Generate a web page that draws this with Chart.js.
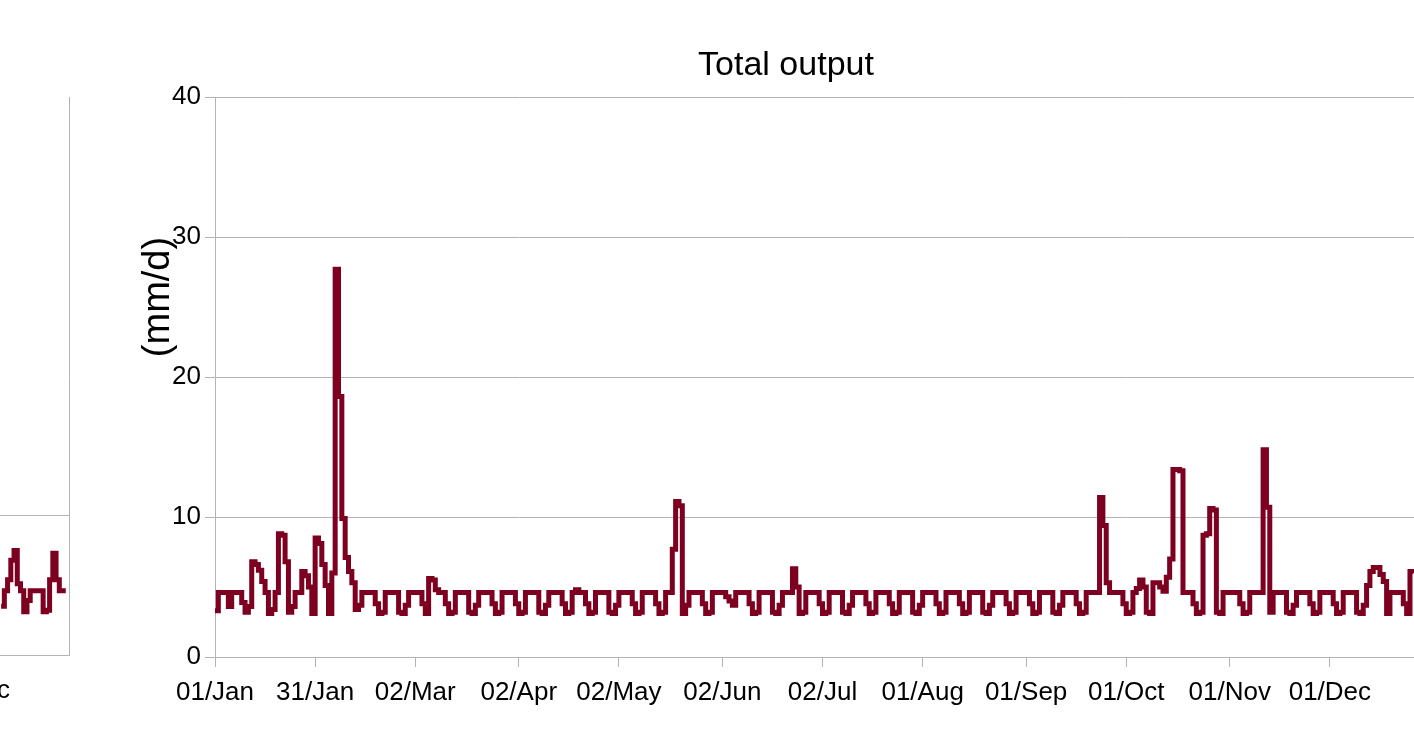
<!DOCTYPE html>
<html>
<head>
<meta charset="utf-8">
<script src="https://cdn.jsdelivr.net/npm/chart.js@4.4.0/dist/chart.umd.min.js"></script>
<style>
  html, body { margin: 0; padding: 0; background: #fff; overflow: hidden; width: 1414px; height: 735px; }
  .panel { position: absolute; top: 0; height: 735px; }
  #prevWrap { left: -1160px; width: 1240px; }
  #mainWrap { left: 126px; width: 1320px; }
</style>
</head>
<body>
<div id="prevWrap" class="panel"><canvas id="prevChart"></canvas></div>
<div id="mainWrap" class="panel"><canvas id="mainChart"></canvas></div>
<script>
// Day-of-year positions of the date ticks and their labels
const tickDays   = [0, 30, 60, 91, 121, 152, 182, 212, 243, 273, 304, 334];
const tickLabels = ['01/Jan', '31/Jan', '02/Mar', '02/Apr', '02/May', '02/Jun',
                    '02/Jul', '01/Aug', '01/Sep', '01/Oct', '01/Nov', '01/Dec'];

const chartTitle = 'Total output';
const unitLabel  = '(mm/d)';
const yTicks     = [0, 10, 20, 30, 40];

// Daily total output (mm/d), one row per week starting 01/Jan
const dailyOutput = [
  3.3, 4.6, 4.6, 4.6, 3.6, 4.6, 4.6,
  4.6, 3.9, 3.2, 3.6, 6.8, 6.6, 6.2,
  5.4, 4.6, 3.1, 3.4, 4.6, 8.8, 8.7,
  6.8, 3.2, 3.6, 4.6, 4.6, 6.1, 5.8,
  5.0, 3.1, 8.5, 8.1, 6.6, 5.1, 3.1,
  6.0, 27.7, 18.6, 9.9, 7.1, 6.1, 5.3,
  3.4, 3.7, 4.6, 4.6, 4.6, 4.6, 3.8,
  3.1, 3.2, 4.6, 4.6, 4.6, 4.6, 3.2,
  3.1, 3.7, 4.6, 4.6, 4.6, 4.6, 3.8,
  3.1, 5.6, 5.5, 4.8, 4.6, 4.6, 3.8,
  3.1, 3.2, 4.6, 4.6, 4.6, 4.6, 3.2,
  3.1, 3.7, 4.6, 4.6, 4.6, 4.6, 3.8,
  3.1, 3.2, 4.6, 4.6, 4.6, 4.6, 3.8,
  3.1, 3.2, 4.6, 4.6, 4.6, 4.6, 3.2,
  3.1, 3.7, 4.6, 4.6, 4.6, 4.6, 3.8,
  3.1, 3.2, 4.6, 4.8, 4.6, 4.6, 3.8,
  3.1, 3.2, 4.6, 4.6, 4.6, 4.6, 3.2,
  3.1, 3.7, 4.6, 4.6, 4.6, 4.6, 3.8,
  3.1, 3.2, 4.6, 4.6, 4.6, 4.6, 3.8,
  3.1, 3.2, 4.6, 4.6, 7.7, 11.1, 10.8,
  3.1, 3.7, 4.6, 4.6, 4.6, 4.6, 3.8,
  3.1, 3.2, 4.6, 4.6, 4.6, 4.6, 4.3,
  4.0, 3.7, 4.6, 4.6, 4.6, 4.6, 3.8,
  3.1, 3.2, 4.6, 4.6, 4.6, 4.6, 3.2,
  3.1, 3.7, 4.6, 4.6, 4.6, 6.3, 5.0,
  3.1, 3.2, 4.6, 4.6, 4.6, 4.6, 3.8,
  3.1, 3.2, 4.6, 4.6, 4.6, 4.6, 3.2,
  3.1, 3.7, 4.6, 4.6, 4.6, 4.6, 3.8,
  3.1, 3.2, 4.6, 4.6, 4.6, 4.6, 3.8,
  3.1, 3.2, 4.6, 4.6, 4.6, 4.6, 3.2,
  3.1, 3.7, 4.6, 4.6, 4.6, 4.6, 3.8,
  3.1, 3.2, 4.6, 4.6, 4.6, 4.6, 3.8,
  3.1, 3.2, 4.6, 4.6, 4.6, 4.6, 3.2,
  3.1, 3.7, 4.6, 4.6, 4.6, 4.6, 3.8,
  3.1, 3.2, 4.6, 4.6, 4.6, 4.6, 3.8,
  3.1, 3.2, 4.6, 4.6, 4.6, 4.6, 3.2,
  3.1, 3.7, 4.6, 4.6, 4.6, 4.6, 3.8,
  3.1, 3.2, 4.6, 4.6, 4.6, 4.6, 11.4,
  9.4, 5.3, 4.6, 4.6, 4.6, 4.6, 3.8,
  3.1, 3.2, 4.6, 4.9, 5.5, 5.0, 3.2,
  3.1, 5.3, 5.3, 5.0, 4.7, 5.7, 7.0,
  13.4, 13.4, 13.3, 4.6, 4.6, 4.6, 3.8,
  3.1, 3.2, 8.7, 8.8, 10.6, 10.5, 3.2,
  3.1, 4.6, 4.6, 4.6, 4.6, 4.6, 3.8,
  3.1, 3.2, 4.6, 4.6, 4.6, 4.6, 14.8,
  10.7, 3.2, 4.6, 4.6, 4.6, 4.6, 3.2,
  3.1, 3.7, 4.6, 4.6, 4.6, 4.6, 3.8,
  3.1, 3.2, 4.6, 4.6, 4.6, 4.6, 3.8,
  3.1, 3.2, 4.6, 4.6, 4.6, 4.6, 3.2,
  3.1, 3.7, 5.1, 6.1, 6.4, 6.4, 5.9,
  5.4, 3.1, 4.6, 4.6, 4.6, 4.6, 3.8,
  3.1, 6.1, 6.0
];

// Neighbouring panel: the last weeks of its series
const prevDays   = [344, 345, 346, 347, 348, 349, 350, 351, 352, 353, 354,
                    355, 356, 357, 358, 359, 360, 361, 362, 363, 364];
const prevValues = [3.5, 4.6, 5.4, 6.8, 7.5, 5.1, 4.6, 3.1, 3.9, 4.6, 4.6,
                    4.6, 4.6, 3.1, 3.2, 5.4, 7.3, 5.4, 4.6, 4.6, 4.6];

const FONT = "'Liberation Sans', Arimo, Arial, sans-serif";
const LINE_COLOR = '#7e0021';
const GRID_COLOR = '#b3b3b3';
const LINE_WIDTH = 5;

Chart.defaults.font.family = FONT;
Chart.defaults.color = '#000';

function dateAxis(height, lastDay) {
  return {
    type: 'linear',
    min: 0,
    max: lastDay,
    afterBuildTicks: s => { s.ticks = tickDays.map(v => ({ value: v })); },
    afterFit: s => { s.height = height; },
    ticks: {
      autoSkip: false, maxRotation: 0, minRotation: 0, padding: 10,
      color: '#000', font: { family: FONT, size: 26 },
      callback: v => tickLabels[tickDays.indexOf(v)]
    },
    grid: { drawOnChartArea: false, drawTicks: true, tickLength: 10, color: GRID_COLOR, lineWidth: 1 },
    border: { color: GRID_COLOR, width: 1 }
  };
}

// Rotated unit label beside the value axis
const unitLabelPlugin = {
  id: 'unitLabel',
  afterDraw(chart) {
    const { ctx, chartArea } = chart;
    ctx.save();
    ctx.translate(chartArea.left - 56, chartArea.top + 200);
    ctx.rotate(-Math.PI / 2);
    ctx.font = `38px ${FONT}`;
    ctx.fillStyle = '#000';
    ctx.textAlign = 'center';
    ctx.textBaseline = 'middle';
    ctx.fillText(unitLabel, 0, 0);
    ctx.restore();
  }
};

new Chart(document.getElementById('mainChart'), {
  type: 'line',
  data: {
    datasets: [{
      label: chartTitle,
      data: dailyOutput.map((v, i) => ({ x: i, y: v })),
      borderColor: LINE_COLOR,
      backgroundColor: LINE_COLOR,
      borderWidth: LINE_WIDTH,
      borderJoinStyle: 'miter',
      pointRadius: 0,
      stepped: 'before',
      fill: false
    }]
  },
  options: {
    responsive: true,
    maintainAspectRatio: false,
    animation: false,
    layout: { padding: { left: 16, right: 16, top: 0, bottom: 0 } },
    plugins: {
      legend: { display: false },
      tooltip: { enabled: false },
      title: {
        display: true, text: chartTitle, color: '#000',
        font: { family: FONT, size: 34, weight: 'normal' },
        padding: { top: 45, bottom: 11.2 }
      }
    },
    scales: {
      x: dateAxis(78, 364),
      y: {
        min: 0, max: 40,
        afterBuildTicks: s => { s.ticks = yTicks.map(v => ({ value: v })); },
        afterFit: s => { s.width = 73; },
        ticks: { padding: 4, color: '#000', font: { family: FONT, size: 26 } },
        grid: { color: GRID_COLOR, lineWidth: 1, tickLength: 10 },
        border: { color: GRID_COLOR, width: 1 }
      }
    }
  },
  plugins: [unitLabelPlugin]
});

new Chart(document.getElementById('prevChart'), {
  type: 'line',
  data: {
    datasets: [{
      data: prevDays.map((d, i) => ({ x: d, y: prevValues[i] })),
      borderColor: LINE_COLOR,
      borderWidth: LINE_WIDTH,
      borderJoinStyle: 'miter',
      pointRadius: 0,
      stepped: 'before',
      fill: false
    }]
  },
  options: {
    responsive: true,
    maintainAspectRatio: false,
    animation: false,
    layout: { padding: { left: 11, right: 11, top: 97, bottom: 0 } },
    plugins: { legend: { display: false }, tooltip: { enabled: false }, title: { display: false } },
    scales: {
      x: dateAxis(80, 365),
      y: {
        min: 0, max: 40,
        afterBuildTicks: s => { s.ticks = yTicks.map(v => ({ value: v })); },
        afterFit: s => { s.width = 0; },
        ticks: { display: false },
        grid: { color: c => (c.tick && c.tick.value === 10 ? GRID_COLOR : 'rgba(0,0,0,0)'), drawTicks: false },
        border: { display: false }
      },
      yr: {
        position: 'right',
        min: 0, max: 40,
        afterFit: s => { s.width = 0; },
        ticks: { display: false },
        grid: { display: false },
        border: { color: GRID_COLOR, width: 1 }
      }
    }
  }
});
</script>
</body>
</html>
